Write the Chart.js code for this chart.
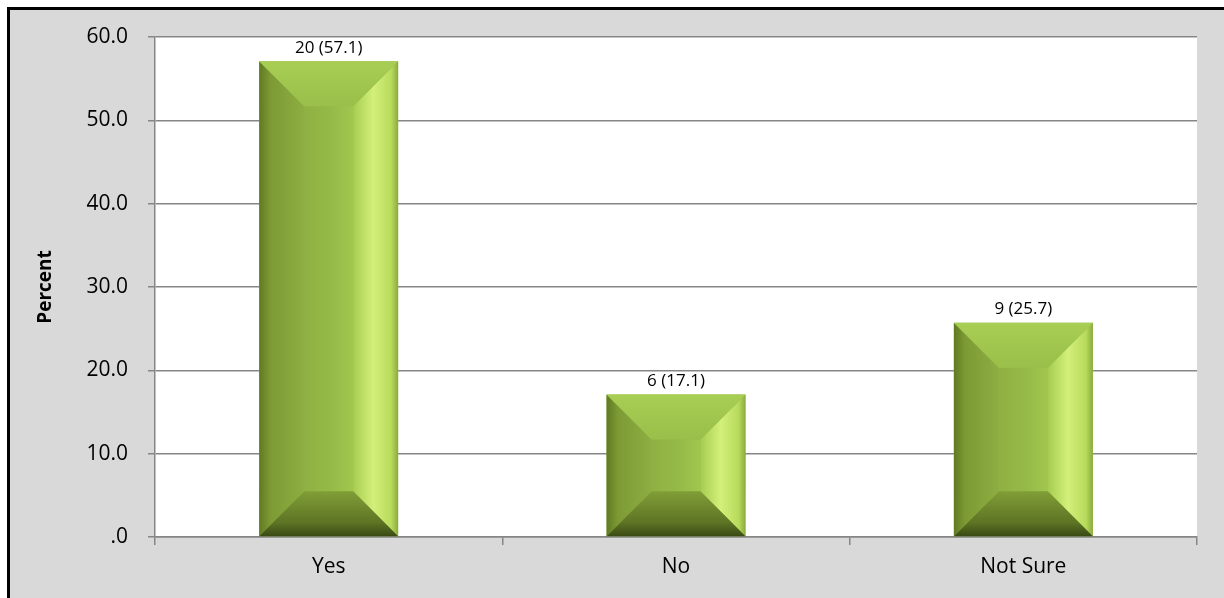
<!DOCTYPE html>
<html>
<head>
<meta charset="utf-8">
<script src="https://cdn.jsdelivr.net/npm/chart.js@4"></script>
<style>
  html, body { margin: 0; padding: 0; background: #fff; }
  #wrap { width: 1224px; height: 598px; }
</style>
</head>
<body>
<div id="wrap"><canvas id="surveyChart" width="1224" height="598"></canvas></div>
<script>
// answers and their counts / percentages
const categories = ["Yes", "No", "Not Sure"];
const counts = [20, 6, 9];
const percents = [57.1, 17.1, 25.7];
const yTickLabels = [".0", "10.0", "20.0", "30.0", "40.0", "50.0", "60.0"];

const FONT = "'Open Sans', 'Liberation Sans', sans-serif";

// grey panel with black frame on top/left
const frame = {
  id: 'frame',
  beforeDraw(chart) {
    const c = chart.ctx;
    c.save();
    c.fillStyle = '#ffffff';
    c.fillRect(0, 0, chart.width, chart.height);
    c.fillStyle = '#d9d9d9';
    c.fillRect(10, 10, chart.width - 10, chart.height - 10);
    c.fillStyle = '#000000';
    c.fillRect(7, 7, chart.width - 7, 3);
    c.fillRect(7, 7, 3, chart.height - 7);
    const a = chart.chartArea;
    c.fillStyle = '#ffffff';
    c.fillRect(a.left, a.top, a.right - a.left, a.bottom - a.top);
    c.restore();
  }
};

// bevelled look on top of each bar + "n (pct)" labels
const bevel = {
  id: 'bevel',
  afterDatasetsDraw(chart) {
    const c = chart.ctx;
    const meta = chart.getDatasetMeta(0);
    meta.data.forEach((bar, i) => {
      const L = bar.x - bar.width / 2, R = bar.x + bar.width / 2;
      const T = bar.y, B = bar.base;
      const b = Math.min(45, (B - T) / 2, bar.width / 3);
      c.save();

      // centre face, slightly shaded
      let g = c.createLinearGradient(L + b, 0, R - b, 0);
      g.addColorStop(0, '#8fb043');
      g.addColorStop(0.6, '#96bb48');
      g.addColorStop(1, '#a2c74f');
      c.fillStyle = g;
      c.fillRect(L + b, T + b, R - L - 2 * b, B - T - 2 * b);

      // left face
      g = c.createLinearGradient(L, 0, L + b, 0);
      g.addColorStop(0, '#5f7a22');
      g.addColorStop(0.25, '#7d9a34');
      g.addColorStop(1, '#8dae42');
      c.fillStyle = g;
      c.beginPath();
      c.moveTo(L, T); c.lineTo(L + b, T + b); c.lineTo(L + b, B - b); c.lineTo(L, B);
      c.closePath(); c.fill();

      // right face
      g = c.createLinearGradient(R - b, 0, R, 0);
      g.addColorStop(0, '#a6cc50');
      g.addColorStop(0.45, '#d3f07a');
      g.addColorStop(0.85, '#b7da5c');
      g.addColorStop(1, '#8aab3c');
      c.fillStyle = g;
      c.beginPath();
      c.moveTo(R, T); c.lineTo(R - b, T + b); c.lineTo(R - b, B - b); c.lineTo(R, B);
      c.closePath(); c.fill();

      // top face
      g = c.createLinearGradient(0, T, 0, T + b);
      g.addColorStop(0, '#a8ce54');
      g.addColorStop(1, '#9abf4a');
      c.fillStyle = g;
      c.beginPath();
      c.moveTo(L, T); c.lineTo(R, T); c.lineTo(R - b, T + b); c.lineTo(L + b, T + b);
      c.closePath(); c.fill();

      // bottom face
      g = c.createLinearGradient(0, B - b, 0, B);
      g.addColorStop(0, '#819e37');
      g.addColorStop(0.7, '#5d7424');
      g.addColorStop(1, '#3a4a14');
      c.fillStyle = g;
      c.beginPath();
      c.moveTo(L, B); c.lineTo(R, B); c.lineTo(R - b, B - b); c.lineTo(L + b, B - b);
      c.closePath(); c.fill();

      // label
      c.fillStyle = '#000';
      c.font = '17px ' + FONT;
      c.textAlign = 'center';
      c.textBaseline = 'bottom';
      c.fillText(counts[i] + ' (' + percents[i].toFixed(1) + ')', bar.x, T - 5);
      c.restore();
    });
  }
};

const ctx = document.getElementById('surveyChart').getContext('2d');
const surveyChart = new Chart(ctx, {
  type: 'bar',
  data: {
    labels: categories,
    datasets: [{
      data: percents,
      backgroundColor: '#93b746',
      borderWidth: 0,
      barPercentage: 0.8,
      categoryPercentage: 0.5
    }]
  },
  options: {
    responsive: false,
    animation: false,
    layout: { padding: { left: 10, top: 37, right: 27, bottom: 0 } },
    plugins: {
      legend: { display: false },
      tooltip: { enabled: false }
    },
    scales: {
      x: {
        afterFit(scale) { scale.height = 61; },
        grid: {
          offset: true,
          drawOnChartArea: false,
          drawTicks: true,
          tickLength: 8,
          color: '#868686',
          lineWidth: 1.5
        },
        border: { color: '#868686', width: 1.5 },
        ticks: { color: '#000', padding: 9, font: { family: FONT, size: 21 } }
      },
      y: {
        min: 0,
        max: 60,
        afterFit(scale) { scale.width = 145; },
        grid: { color: '#868686', lineWidth: 1.5, tickLength: 7 },
        border: { color: '#868686', width: 1.5 },
        ticks: {
          stepSize: 10,
          color: '#000',
          padding: 20,
          font: { family: FONT, size: 21 },
          callback: (v, i) => yTickLabels[i]
        },
        title: {
          display: true,
          text: 'Percent',
          color: '#000',
          padding: { top: 24, bottom: 0 },
          font: { family: FONT, size: 19, weight: 'bold' }
        }
      }
    }
  },
  plugins: [frame, bevel]
});
</script>
</body>
</html>
